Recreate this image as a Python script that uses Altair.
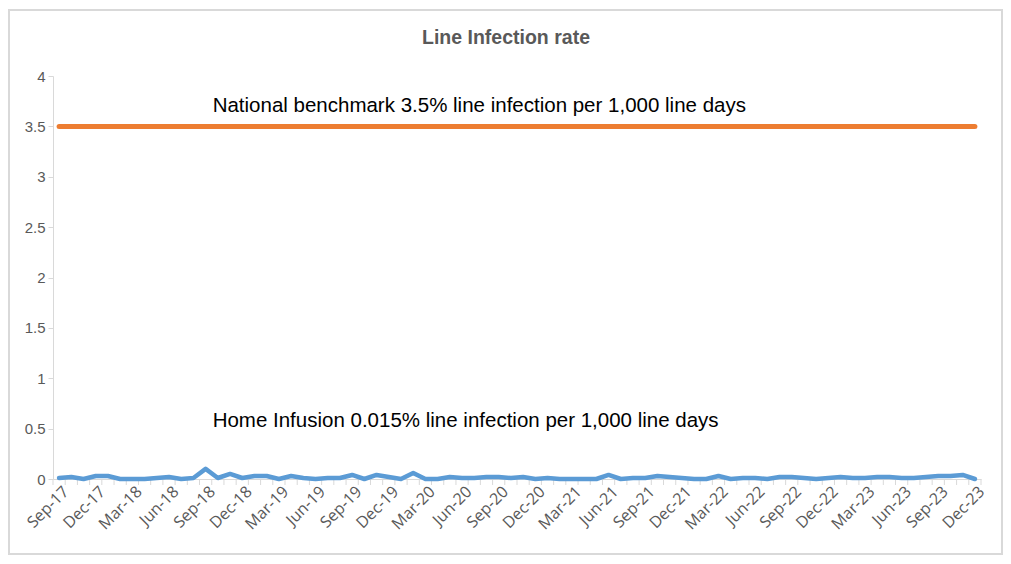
import altair as alt
import pandas as pd

months = [d.strftime("%b-%y") for d in pd.date_range("2017-09-01", "2023-12-01", freq="MS")]

home_infusion = [
    0.01, 0.02, 0.00, 0.03,
    0.03, 0.00, 0.00, 0.00, 0.01, 0.02, 0.00, 0.01, 0.10, 0.01, 0.05, 0.01,
    0.03, 0.03, 0.00, 0.03, 0.01, 0.00, 0.01, 0.01, 0.04, 0.00, 0.04, 0.02,
    0.00, 0.06, 0.00, 0.00, 0.02, 0.01, 0.01, 0.02, 0.02, 0.01, 0.02, 0.00,
    0.01, 0.00, 0.00, 0.00, 0.00, 0.04, 0.00, 0.01, 0.01, 0.03, 0.02, 0.01,
    0.00, 0.00, 0.03, 0.00, 0.01, 0.01, 0.00, 0.02, 0.02, 0.01, 0.00, 0.01,
    0.02, 0.01, 0.01, 0.02, 0.02, 0.01, 0.01, 0.02, 0.03, 0.03, 0.04, 0.00,
]
benchmark = [3.5] * len(months)

ann_text = [
    "National benchmark 3.5% line infection per 1,000 line days",
    "Home Infusion 0.015% line infection per 1,000 line days",
]
ann_month = ["Sep-18", "Sep-18"]
ann_y = [3.70, 0.58]

n = len(months)
label_months = [m for m in months if m[:3] in ("Mar", "Jun", "Sep", "Dec")]
tick_pos = [i - 0.5 for i in range(n + 1)]

df = pd.DataFrame({"idx": list(range(n)), "month": months, "home": home_infusion, "bench": benchmark})
ann = pd.DataFrame({"idx": [months.index(m) for m in ann_month], "y": ann_y, "text": ann_text})
ticks = pd.DataFrame({"pos": tick_pos})
xlab = pd.DataFrame({"idx": [months.index(m) for m in label_months], "label": label_months})

W, H = 928, 403
grey = "#595959"
light = "#d9d9d9"

x_scale = alt.Scale(domain=[-0.5, n - 0.5], nice=False, zero=False)
x_axis = alt.Axis(title=None, labels=False, ticks=False, grid=False, domainColor=light)
y_scale = alt.Scale(domain=[0, 4], nice=False)
y_axis = alt.Axis(
    title=None,
    values=[0, 0.5, 1, 1.5, 2, 2.5, 3, 3.5, 4],
    format="~g",
    grid=False,
    tickSize=5,
    tickColor=light,
    domainColor=light,
    labelColor=grey,
    labelFont="Liberation Sans Narrow, Liberation Sans",
    labelFontSize=15,
    labelPadding=3,
)

base = alt.Chart(df)

bench_line = base.mark_line(color="#ED7D31", strokeWidth=5, strokeCap="round").encode(
    x=alt.X("idx:Q", scale=x_scale, axis=x_axis),
    y=alt.Y("bench:Q", scale=y_scale, axis=y_axis),
)
home_line = base.mark_line(color="#5B9BD5", strokeWidth=4.5, strokeJoin="round", strokeCap="round").encode(
    x=alt.X("idx:Q"),
    y=alt.Y("home:Q"),
)
minor_ticks = alt.Chart(ticks).mark_rule(color=light, strokeWidth=1).encode(
    x=alt.X("pos:Q"),
    y=alt.value(H),
    y2=alt.value(H + 6),
)
x_labels = alt.Chart(xlab).mark_text(
    angle=315, align="right", baseline="top", font="Open Sans", fontSize=16,
    color=grey, dx=2,
).encode(
    x=alt.X("idx:Q"),
    y=alt.value(H + 6),
    text="label:N",
)
labels = alt.Chart(ann).mark_text(
    align="left", baseline="middle", dx=7, fontSize=20.5,
    font="Liberation Sans Narrow, Liberation Sans", color="#000000"
).encode(
    x=alt.X("idx:Q"),
    y=alt.Y("y:Q"),
    text="text:N",
)
border = base.mark_rect(fill="transparent", stroke=light, strokeWidth=1.5).encode(
    x=alt.value(-44), x2=alt.value(W + 21), y=alt.value(-66), y2=alt.value(H + 75)
)

chart = alt.layer(minor_ticks, bench_line, home_line, x_labels, labels, border).properties(
    width=W,
    height=H,
    title=alt.TitleParams(
        "Line Infection rate",
        font="Liberation Sans Narrow, Liberation Sans",
        fontSize=19.5,
        fontWeight="bold",
        color=grey,
        anchor="middle",
        offset=-39,
        dx=-11,
    ),
    autosize=alt.AutoSizeParams(type="none"),
    padding={"left": 45, "top": 68, "right": 22, "bottom": 76},
).configure_view(stroke=None)

chart.save("out.html", embed_options={"renderer": "svg", "actions": False})
